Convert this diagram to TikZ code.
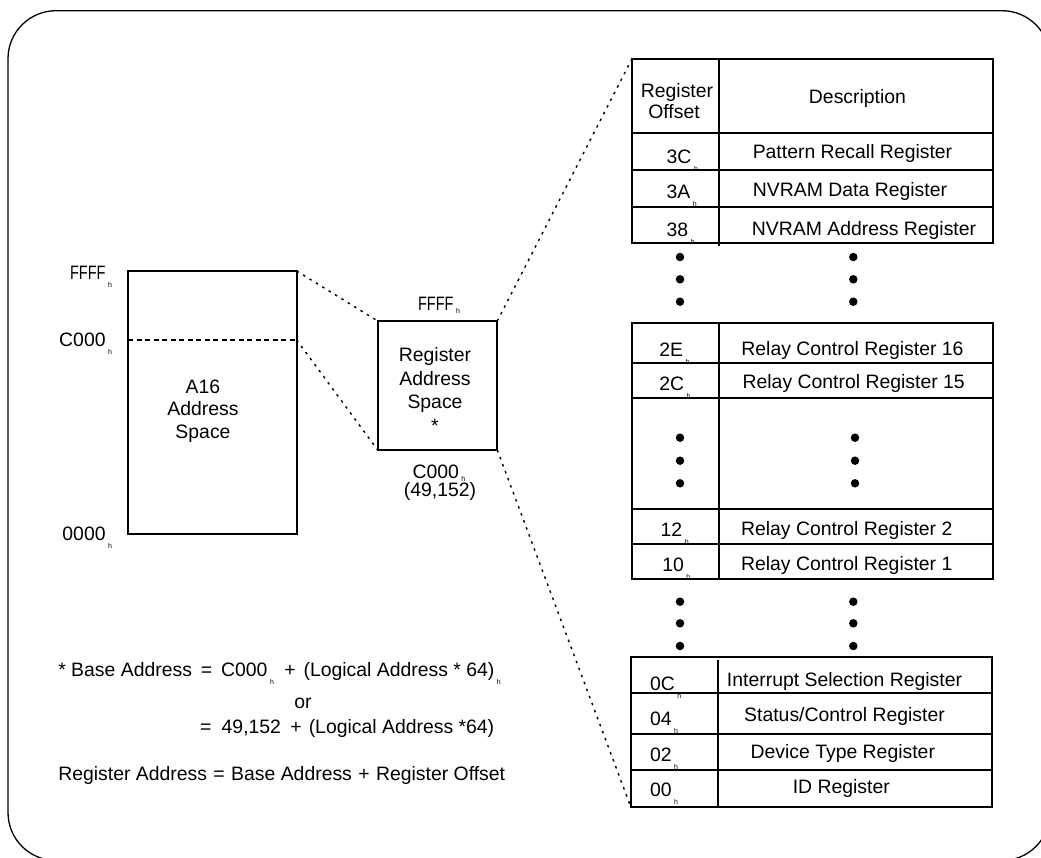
\documentclass[tikz,border=0pt]{standalone}
\usepackage{fontspec}
\setmainfont{Liberation Sans}
\newcommand{\hsb}{\hspace{2.5pt}\raisebox{-8pt}{\fontsize{7}{7}\selectfont h}}
\newcommand{\hsbs}{\hspace{2.5pt}\raisebox{-3pt}{\fontsize{7}{7}\selectfont h}}
\newcommand{\FFFF}{\scalebox{0.75}[1]{FFFF}}
\begin{document}
\begin{tikzpicture}[x=1pt,y=-1pt,
  txt/.style={font=\fontsize{19.4}{23.6}\selectfont, inner sep=0pt, outer sep=0pt},
  boxnode/.style={draw, line width=1.8pt, inner sep=0pt, outer sep=0pt},
  dotline/.style={line width=1.4pt, dash pattern=on 2.5pt off 5pt},
  grid/.style={line width=1.8pt},
  bigdot/.style={circle, fill, inner sep=0pt, minimum size=8.5pt}]
\path[use as bounding box] (0,0) rectangle (1041,857);
\begin{scope}
\clip (0,0) rectangle (1041,857);
\draw[line width=1.3pt, rounded corners=48pt] (8,10.7) rectangle (1050,860.5);
\end{scope}

% left A16 box
\node[boxnode, minimum width=168.4pt, minimum height=263pt] (a16) at (212.5,402.5) {};
\coordinate (c000r) at (296.7,340);
\draw[line width=1.5pt, dash pattern=on 5pt off 3.5pt] (a16.west |- c000r) -- (c000r);
\node[txt, anchor=base east] (lf) at (112,279.3) {\FFFF\hsb};
\node[txt, anchor=base east] (lc) at (112,346.7) {C000\hsb};
\node[txt, anchor=base east] (lz) at (112,540) {0000\hsb};
\node[txt, anchor=base] (la1) at (203,393) {A16};
\node[txt, anchor=base] (la2) at (203,415.5) {Address};
\node[txt, anchor=base] (la3) at (203,438) {Space};

% register address space box
\node[boxnode, minimum width=119.6pt, minimum height=129pt] (ras) at (437.5,385.5) {};
\node[txt, anchor=base] (rf) at (439,310) {\FFFF\hsbs};
\node[txt, anchor=base] (rc) at (439,478) {C000\hsbs};
\node[txt, anchor=base] (rd) at (440,496) {(49,152)};
\node[txt, anchor=base] (r1) at (435,361.7) {Register};
\node[txt, anchor=base] (r2) at (435,385.3) {Address};
\node[txt, anchor=base] (r3) at (435,408.9) {Space};
\node[txt, anchor=base] (r4) at (435,432.5) {*};

% tables
\node[boxnode, minimum width=361.6pt, minimum height=184pt] (t1) at (812.5,151.3) {};
\node[boxnode, minimum width=361.6pt, minimum height=256pt] (t2) at (812.5,451.3) {};
\node[boxnode, minimum width=361.6pt, minimum height=150pt] (t3) at (811.5,731.7) {};

\draw[grid] (719.3,59.3) -- (719.3,246);
\foreach \y in {132.7,170,206.7} \draw[grid] (631.7,\y) -- (993.3,\y);
\draw[grid] (719.3,323.3) -- (719.3,579.3);
\foreach \y in {362.7,398.3,509,544} \draw[grid] (631.7,\y) -- (993.3,\y);
\draw[grid] (717.7,660) -- (717.7,808);
\foreach \y in {692.7,734,770} \draw[grid] (630.7,\y) -- (992.3,\y);

% header
\node[txt, anchor=base] (ho1) at (677,97.7) {Register};
\node[txt, anchor=base] (ho2) at (674,118.3) {Offset};
\node[txt, anchor=base] (hd) at (857.5,103.3) {Description};

% rows: offset labels
\foreach \n/\x/\y/\t in {o1/666.7/163/3C, o2/666.7/198/3A, o3/666.7/236/38,
  o4/659.3/356.7/2E, o5/659.3/390/2C, o6/660.7/536.7/12, o7/662.3/571.7/10,
  o8/650/690/0C, o9/650/725/04, o10/650/761.7/02, o11/650/796.7/00}
  \node[txt, anchor=base west] (\n) at (\x,\y) {\t\hsb};

% rows: descriptions
\node[txt, anchor=base] (d1) at (852.5,158.3) {Pattern Recall Register};
\node[txt, anchor=base] (d2) at (850,196.7) {NVRAM Data Register};
\node[txt, anchor=base] (d3) at (864,235) {NVRAM Address Register};
\node[txt, anchor=base] (d4) at (852.5,355) {Relay Control Register 16};
\node[txt, anchor=base] (d5) at (853.7,388.3) {Relay Control Register 15};
\node[txt, anchor=base] (d6) at (846.7,535) {Relay Control Register 2};
\node[txt, anchor=base] (d7) at (846.7,570) {Relay Control Register 1};
\node[txt, anchor=base] (d8) at (844.5,686.7) {Interrupt Selection Register};
\node[txt, anchor=base] (d9) at (844.5,721.7) {Status/Control Register};
\node[txt, anchor=base] (d10) at (842.8,758.3) {Device Type Register};
\node[txt, anchor=base] (d11) at (841.3,793.3) {ID Register};

% ellipsis dots
\foreach \y [count=\i] in {257,279.3,301.7} {
  \node[bigdot] (ua\i) at (680,\y) {};
  \node[bigdot] (ub\i) at (853.3,\y) {};}
\foreach \y [count=\i] in {437.7,460.7,483.3} {
  \node[bigdot] (ma\i) at (680,\y) {};
  \node[bigdot] (mb\i) at (855,\y) {};}
\foreach \y [count=\i] in {601.7,623.3,646} {
  \node[bigdot] (la\i) at (680,\y) {};
  \node[bigdot] (lb\i) at (853.3,\y) {};}

% dotted connectors
\draw[dotline] (a16.north east) -- (ras.north west);
\draw[dotline] (c000r) -- (ras.south west);
\draw[dotline] (ras.north east) -- (t1.north west);
\draw[dotline] (ras.south east) -- (t3.south west);

% formulas
\node[txt, anchor=base west] (f1) at (58.3,676.7) {* Base Address\hspace{3.5pt} =\hspace{3.5pt} C000\hsb\hspace{5pt} +\hspace{8pt}(Logical Address * 64)\hsb};
\node[txt, anchor=base] (f2) at (303,708.3) {or};
\node[txt, anchor=base west] (f3) at (200,733.3) {=\hspace{5pt} 49,152\hspace{4pt} +\hspace{7pt}(Logical Address *64)};
\node[txt, anchor=base west] (f4) at (58.3,780) {Register Address\hspace{1pt} =\hspace{1pt} Base Address\hspace{1pt} +\hspace{1pt} Register Offset};
\end{tikzpicture}
\end{document}
